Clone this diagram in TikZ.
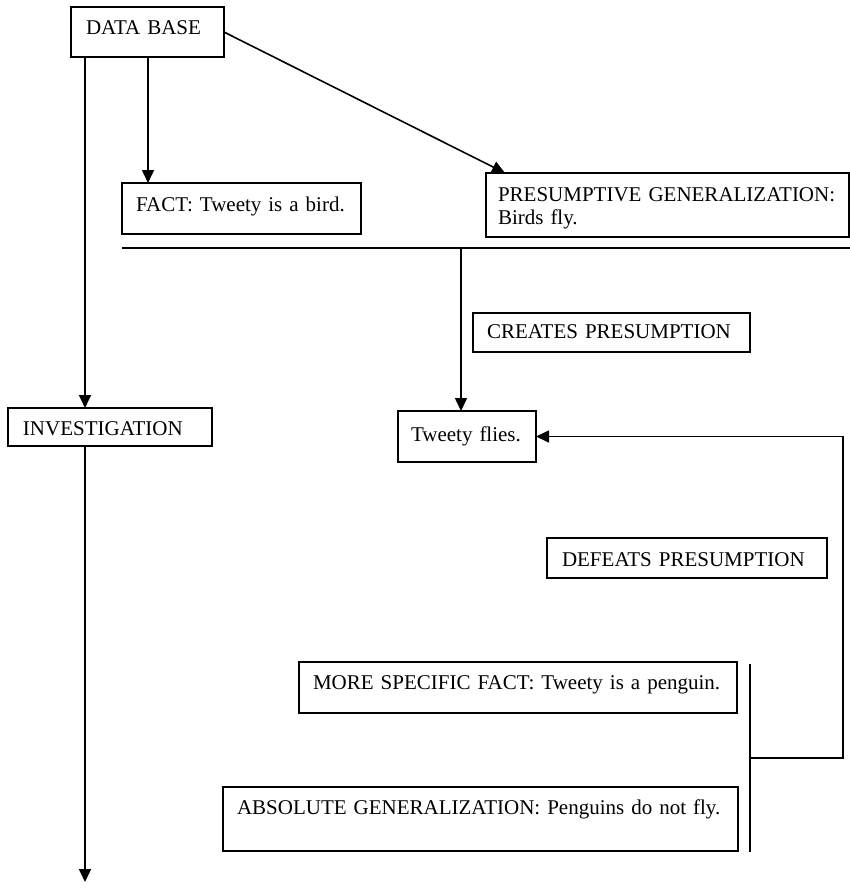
\documentclass[tikz,border=0pt]{standalone}
\usepackage{fontspec}
\setmainfont{Liberation Serif}
\usetikzlibrary{arrows.meta}

\tikzset{
  box/.style={draw, line width=0.8pt, anchor=north west, outer sep=0pt,
    inner ysep=0pt, align=left, font=\fontsize{10.5pt}{11.5pt}\selectfont},
  link/.style={line width=0.8pt},
  arrowlink/.style={line width=0.8pt, -{Triangle[length=6.5pt,width=6pt]}}
}

\begin{document}
\begin{tikzpicture}[x=0.5pt, y=-0.5pt]
  % canvas
  \fill[white] (0,0) rectangle (850,895);
  \useasboundingbox (0,0) rectangle (850,895);

  % boxes: text width / heights chosen so each frame keeps its size
  \node[box, inner xsep=7.5pt, text width=61.5pt, text height=13.5pt, text depth=11.5pt]
    (db) at (71,7) {DATA BASE};
  \node[box, inner xsep=7pt, text width=105.5pt, text height=14pt, text depth=11.5pt]
    (fact) at (122,183) {FACT: Tweety is a bird.};
  \node[box, inner xsep=6pt, text width=169.5pt, text height=14pt, text depth=18pt]
    (presum) at (486,173) {PRESUMPTIVE GENERALIZATION:\\Birds fly.};
  \node[box, inner xsep=7pt, text width=124.5pt, text height=12.5pt, text depth=7pt]
    (creates) at (473,313) {CREATES PRESUMPTION};
  \node[box, inner xsep=6.5pt, text width=56pt, text height=15pt, text depth=10.5pt]
    (tweety) at (398,411) {Tweety flies.};
  \node[box, inner xsep=7.5pt, text width=87pt, text height=13.5pt, text depth=5.5pt]
    (inv) at (8,408) {INVESTIGATION};
  \node[box, inner xsep=7.5pt, text width=125pt, text height=14pt, text depth=6pt]
    (defeats) at (547,538) {DEFEATS PRESUMPTION};
  \node[box, inner xsep=7pt, text width=205pt, text height=13.5pt, text depth=12pt]
    (specific) at (299,662) {MORE SPECIFIC FACT: Tweety is a penguin.};
  \node[box, inner xsep=7pt, text width=243.5pt, text height=13.5pt, text depth=18.5pt]
    (absolute) at (223,787) {ABSOLUTE GENERALIZATION: Penguins do not fly.};

  % free ends and junctions
  \coordinate (dbleft) at (85,57);
  \coordinate (dbmid) at (148,57);
  \coordinate (presumtip) at (505,173);
  \coordinate (invend) at (85,882);
  \coordinate (barL) at (122,248);
  \coordinate (barR) at (850,248);
  \coordinate (barT) at (461,248);
  \coordinate (brT) at (750,664);
  \coordinate (brB) at (750,852);
  \coordinate (brJ) at (750,758);
  \coordinate (turn) at (843,758);

  % connectors from the data base
  \draw[arrowlink] (dbmid) -- (dbmid |- fact.north);
  \draw[arrowlink] (db.east) -- (presumtip);
  \draw[arrowlink] (dbleft) -- (dbleft |- inv.north);
  \draw[arrowlink] (dbleft |- inv.south) -- (invend);

  % inference bar and presumption
  \draw[link] (barL) -- (barR);
  \draw[arrowlink] (barT) -- (barT |- tweety.north);

  % defeating branch
  \draw[link] (brT) -- (brB);
  \draw[arrowlink] (brJ) -- (turn) |- (tweety.east);
\end{tikzpicture}
\end{document}
